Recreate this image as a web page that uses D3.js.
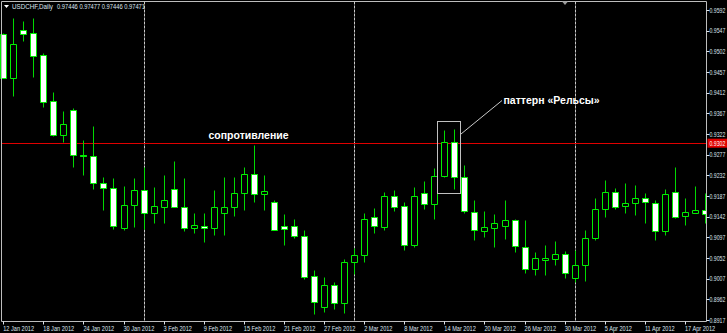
<!DOCTYPE html>
<html>
<head>
<meta charset="utf-8">
<script src="https://cdn.jsdelivr.net/npm/d3@7"></script>
<style>
  html, body { margin: 0; padding: 0; background: #000; }
  svg { display: block; }
</style>
</head>
<body>
<div id="chart"></div>
<script>
// USDCHF daily, 12 Jan 2012 .. 19 Apr 2012 (one entry per bar)
var opens = [0.9540,0.9445,0.9548,0.9541,0.9493,0.9394,0.9319,0.9374,0.9276,0.9274,
  0.9215,0.9204,0.9117,0.9167,0.9200,0.9151,0.9164,0.9202,0.9164,0.9117,
  0.9122,0.9117,0.9149,0.9164,0.9193,0.9234,0.9191,0.9173,0.9122,0.9122,
  0.9100,0.9013,0.8945,0.8993,0.8953,0.9043,0.9059,0.9142,0.9120,0.9187,
  0.9165,0.9080,0.9193,0.9169,0.9231,0.9305,0.9229,0.9153,0.9111,0.9117,
  0.9122,0.9135,0.9075,0.9027,0.9048,0.9049,0.9060,0.9008,0.9037,0.9095,
  0.9158,0.9195,0.9165,0.9171,0.9182,0.9172,0.9110,0.9195,0.9143,0.9151,
  0.9157];
var highs = [0.9541,0.9574,0.9568,0.9574,0.9498,0.9413,0.9371,0.9378,0.9310,0.9339,
  0.9229,0.9226,0.9209,0.9226,0.9250,0.9206,0.9233,0.9263,0.9226,0.9149,
  0.9149,0.9200,0.9229,0.9229,0.9251,0.9298,0.9233,0.9178,0.9148,0.9136,
  0.9113,0.9026,0.9010,0.9000,0.9050,0.9073,0.9149,0.9160,0.9195,0.9200,
  0.9175,0.9206,0.9220,0.9247,0.9331,0.9333,0.9255,0.9178,0.9154,0.9148,
  0.9178,0.9138,0.9135,0.9066,0.9080,0.9090,0.9067,0.9069,0.9113,0.9182,
  0.9222,0.9205,0.9216,0.9211,0.9194,0.9178,0.9202,0.9250,0.9182,0.9209,
  0.9194];
var lows = [0.9444,0.9405,0.9525,0.9447,0.9381,0.9318,0.9304,0.9251,0.9233,0.9203,
  0.9157,0.9115,0.9113,0.9120,0.9115,0.9128,0.9128,0.9177,0.9111,0.9106,
  0.9087,0.9102,0.9102,0.9143,0.9157,0.9175,0.9157,0.9112,0.9080,0.9095,
  0.9006,0.8929,0.8935,0.8940,0.8933,0.9017,0.9044,0.9106,0.9113,0.9155,
  0.9069,0.9077,0.9159,0.9138,0.9229,0.9202,0.9149,0.9091,0.9098,0.9077,
  0.9093,0.9066,0.9019,0.9015,0.9015,0.9037,0.9008,0.9000,0.9002,0.9091,
  0.9142,0.9158,0.9149,0.9146,0.9128,0.9091,0.9102,0.9140,0.9124,0.9149,
  0.9129];
var closes = [0.9445,0.9518,0.9540,0.9492,0.9392,0.9320,0.9343,0.9276,0.9275,0.9215,
  0.9204,0.9121,0.9167,0.9200,0.9151,0.9165,0.9178,0.9164,0.9117,0.9123,
  0.9117,0.9162,0.9164,0.9193,0.9234,0.9191,0.9198,0.9114,0.9115,0.9100,
  0.9011,0.8957,0.8993,0.8953,0.9044,0.9059,0.9138,0.9122,0.9187,0.9164,
  0.9080,0.9187,0.9169,0.9231,0.9305,0.9228,0.9154,0.9113,0.9119,0.9128,
  0.9135,0.9078,0.9027,0.9051,0.9051,0.9060,0.9019,0.9037,0.9095,0.9158,
  0.9195,0.9164,0.9171,0.9182,0.9173,0.9111,0.9191,0.9142,0.9152,0.9157,
  0.9148];

var dateLabels = ["12 Jan 2012","18 Jan 2012","24 Jan 2012","30 Jan 2012","3 Feb 2012","9 Feb 2012",
  "15 Feb 2012","21 Feb 2012","27 Feb 2012","2 Mar 2012","8 Mar 2012","14 Mar 2012",
  "20 Mar 2012","26 Mar 2012","30 Mar 2012","5 Apr 2012","11 Apr 2012","17 Apr 2012"];
var dateLabelBars = [0,4,8,12,16,20,24,28,32,36,40,44,48,52,56,60,64,68];
var priceTicks = [0.9592,0.9547,0.9502,0.9457,0.9412,0.9367,0.9322,0.9277,
  0.9232,0.9187,0.9142,0.9097,0.9052,0.9007,0.8962,0.8917];
var monthStartBars = [14, 35, 57];   // 1 Feb, 1 Mar, 2 Apr
var resistance = 0.9302;
var railsBars = [44, 45];            // "Рельсы" pattern
var header = ["USDCHF,Daily", "0.97446 0.97477 0.97446 0.97471"];

var width = 727, height = 333;
var plot = { left: 1.5, top: 1.5, right: 706.5, bottom: 321.5 };

var svg = d3.select("#chart").append("svg")
  .attr("width", width)
  .attr("height", height);

var x = d3.scaleLinear().domain([4, 68]).range([43.3, 685]);
var y = d3.scaleLinear().domain([0.8917, 0.9592]).range([320, 10]);

var px = function(i) { return Math.round(x(i)) + 0.5; };
var py = function(v) { return Math.round(y(v)) + 0.5; };

var axisFont = "'Liberation Sans', Arial, sans-serif";
var axisColor = "#dde4ee";
var frameColor = "#bdbdbd";

// terminal font is narrow, squeeze the glyphs horizontally
function condense(sel, factor) {
  sel.each(function() {
    let w = this.getComputedTextLength();
    d3.select(this)
      .attr("textLength", w * factor)
      .attr("lengthAdjust", "spacingAndGlyphs");
  });
}

// clip candles to the plot frame
svg.append("clipPath").attr("id", "plot-clip")
  .append("rect")
  .attr("x", 0).attr("y", plot.top)
  .attr("width", plot.right).attr("height", plot.bottom - plot.top);

// month separators
svg.append("g").selectAll("line")
  .data(monthStartBars)
  .enter().append("line")
  .attr("x1", d => px(d)).attr("x2", d => px(d))
  .attr("y1", plot.top).attr("y2", plot.bottom)
  .attr("stroke", "#c8c8c8")
  .attr("stroke-dasharray", "3,1");

// resistance level
svg.append("line")
  .attr("x1", plot.left).attr("x2", plot.right)
  .attr("y1", py(resistance)).attr("y2", py(resistance))
  .attr("stroke", "#e00000");

var bars = d3.range(opens.length);
var candles = svg.append("g").attr("clip-path", "url(#plot-clip)");

candles.selectAll("line.wick")
  .data(bars)
  .enter().append("line")
  .attr("class", "wick")
  .attr("x1", d => px(d)).attr("x2", d => px(d))
  .attr("y1", d => py(highs[d])).attr("y2", d => py(lows[d]))
  .attr("stroke", "#00d800");

candles.selectAll("path.body")
  .data(bars)
  .enter().append("path")
  .attr("class", "body")
  .attr("d", d => {
    let x0 = px(d) - 3, x1 = px(d) + 3;
    let y0 = py(Math.max(opens[d], closes[d])), y1 = py(Math.min(opens[d], closes[d]));
    return `M${x0},${y0}H${x1}V${y1}H${x0}Z`;
  })
  .attr("fill", d => closes[d] > opens[d] ? "#000" : "#fff")
  .attr("stroke", "#00f000");

// frame
svg.append("path")
  .attr("d", `M${plot.left},${plot.bottom}V${plot.top}H${plot.right}V${plot.bottom}H${plot.left}`)
  .attr("fill", "none")
  .attr("stroke", frameColor);

// price axis
var yAxis = svg.append("g");
yAxis.selectAll("line")
  .data(priceTicks)
  .enter().append("line")
  .attr("x1", plot.right).attr("x2", plot.right + 3)
  .attr("y1", d => py(d)).attr("y2", d => py(d))
  .attr("stroke", axisColor);
yAxis.selectAll("text")
  .data(priceTicks)
  .enter().append("text")
  .attr("transform", d => `translate(709.5,${y(d) + 2.5}) scale(0.74,1)`)
  .attr("fill", axisColor)
  .attr("font-family", axisFont)
  .attr("font-size", "7px")
  .text(d => d.toFixed(4));

// current level tag on the price axis
svg.append("rect")
  .attr("x", plot.right + 1).attr("y", y(resistance) - 4.5)
  .attr("width", 21).attr("height", 9)
  .attr("fill", "#e00000");
svg.append("text")
  .attr("transform", `translate(709.5,${y(resistance) + 2.5}) scale(0.74,1)`)
  .attr("fill", "#ffffff")
  .attr("font-family", axisFont)
  .attr("font-size", "7px")
  .text(resistance.toFixed(4));

// time axis
var xAxis = svg.append("g");
xAxis.selectAll("line")
  .data(dateLabelBars)
  .enter().append("line")
  .attr("x1", d => px(d)).attr("x2", d => px(d))
  .attr("y1", plot.bottom).attr("y2", plot.bottom + 3)
  .attr("stroke", axisColor);
xAxis.selectAll("text")
  .data(dateLabelBars)
  .enter().append("text")
  .attr("x", d => Math.max(x(d), 2.5))
  .attr("y", 330.5)
  .attr("fill", axisColor)
  .attr("font-family", axisFont)
  .attr("font-size", "7px")
  .text((d, i) => dateLabels[i])
  .call(condense, 0.8);

// header
svg.append("path")
  .attr("d", "M4,5H9L6.5,8Z")
  .attr("fill", "#ffffff");
svg.append("text")
  .attr("x", 12).attr("y", 9)
  .attr("fill", axisColor)
  .attr("font-family", axisFont)
  .attr("font-size", "7px")
  .attr("textLength", 41)
  .attr("lengthAdjust", "spacingAndGlyphs")
  .text(header[0]);
svg.append("text")
  .attr("x", 57).attr("y", 9)
  .attr("fill", axisColor)
  .attr("font-family", axisFont)
  .attr("font-size", "7px")
  .attr("textLength", 88)
  .attr("lengthAdjust", "spacingAndGlyphs")
  .text(header[1]);

// chart shift marker
svg.append("path")
  .attr("d", "M562,1.5H568L565,5Z")
  .attr("fill", "#9a9a9a");

// annotations
var railsTop = d3.max(railsBars, d => highs[d]);
var railsBottom = d3.min(railsBars, d => lows[d]);
var boxX0 = Math.round(x(railsBars[0])) - 6.5;
var boxX1 = Math.round(x(railsBars[1])) + 6.5;
svg.append("rect")
  .attr("x", boxX0).attr("y", Math.round(y(railsTop)) - 7.5)
  .attr("width", boxX1 - boxX0)
  .attr("height", Math.round(y(railsBottom)) + 5 - Math.round(y(railsTop)) + 7)
  .attr("fill", "none")
  .attr("stroke", "#c0c0c0");
svg.append("line")
  .attr("x1", boxX1 + 0.5).attr("y1", 134)
  .attr("x2", 502).attr("y2", 100.5)
  .attr("stroke", "#c8c8c8");

svg.append("text")
  .attr("x", 208.5).attr("y", 138.5)
  .attr("fill", "#ffffff")
  .attr("font-family", "'Liberation Sans', Arial, sans-serif")
  .attr("font-weight", "bold")
  .attr("font-size", "10.5px")
  .text("сопротивление");
svg.append("text")
  .attr("x", 503.5).attr("y", 103.5)
  .attr("fill", "#ffffff")
  .attr("font-family", "'Liberation Sans', Arial, sans-serif")
  .attr("font-weight", "bold")
  .attr("font-size", "10.5px")
  .text("паттерн «Рельсы»");
</script>
</body>
</html>
